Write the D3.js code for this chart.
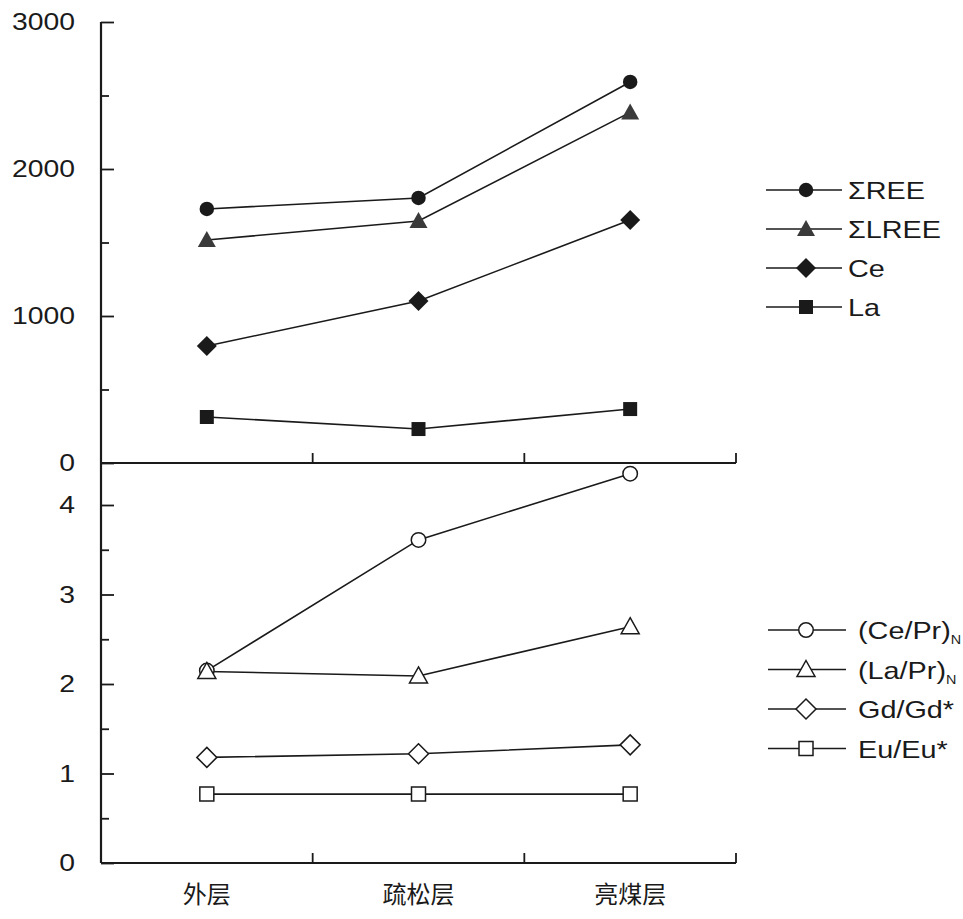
<!DOCTYPE html>
<html>
<head>
<meta charset="utf-8">
<script src="https://cdnjs.cloudflare.com/ajax/libs/d3/7.8.5/d3.min.js"></script>
<style>
  body{margin:0;background:#fff;}
  text{font-family:"Liberation Sans",Arial,sans-serif;fill:#1a1a1a;}
  .cat{font-family:"Noto Sans CJK SC",sans-serif;}
</style>
</head>
<body>
<div id="vis-container"></div>
<script>
//data
let layers = ["外层", "疏松层", "亮煤层"];

let sumREE  = [1728, 1803, 2592];
let sumLREE = [1517, 1646, 2385];
let ce      = [796, 1102, 1653];
let la      = [313, 231, 367];

let cePrN = [2.15, 3.61, 4.35];
let laPrN = [2.14, 2.09, 2.64];
let gdGd  = [1.18, 1.22, 1.32];
let euEu  = [0.77, 0.77, 0.77];

let topTicks = [0, 1000, 2000, 3000];
let topMinor = [500, 1500, 2500];
let botTicks = [0, 1, 2, 3, 4];
let botMinor = [0.5, 1.5, 2.5, 3.5];

let topSeries = [
  {name:"ΣREE",  values:sumREE,  mark:"circle"},
  {name:"ΣLREE", values:sumLREE, mark:"triangle"},
  {name:"Ce",    values:ce,      mark:"diamond"},
  {name:"La",    values:la,      mark:"square"}
];
let botSeries = [
  {name:"(Ce/Pr)", sub:"N", values:cePrN, mark:"circle"},
  {name:"(La/Pr)", sub:"N", values:laPrN, mark:"triangle"},
  {name:"Gd/Gd*",  sub:"",  values:gdGd,  mark:"diamond"},
  {name:"Eu/Eu*",  sub:"",  values:euEu,  mark:"square"}
];

let W = 963, H = 919;
let stretch = 1.18; //text in the original is wider than Arial
let ink = "#1a1a1a";

let svg = d3.select("#vis-container")
  .append("svg")
  .attr("width", W)
  .attr("height", H);

//scales
let x = d3.scaleBand()
  .domain(layers)
  .range([101, 736]);

let yTop = d3.scaleLinear()
  .domain([0, 3000])
  .range([463, 22]);

let yBot = d3.scaleLinear()
  .domain([0, 4])
  .range([863, 505]);

//marker path centred on 0,0
function markPath(type){
  if(type=="circle") return d3.symbol(d3.symbolCircle, 165)();
  if(type=="triangle") return "M0,-9L9,7L-9,7Z";
  if(type=="diamond") return "M0,-10L10,0L0,10L-10,0Z";
  return "M-7,-7L7,-7L7,7L-7,7Z";
}

function markFill(type, filled){
  if(!filled) return "#fff";
  return type=="triangle" ? "#3a3a3a" : ink;
}

//y axes, ticks pointing into the plot
function yAxis(scale, major, minor, g){
  g.append("g")
    .call(d3.axisLeft(scale).tickValues(minor).tickSize(-8).tickFormat(""))
    .call(a=>a.select(".domain").remove());
  g.append("g")
    .call(d3.axisLeft(scale).tickValues(major).tickSizeInner(-13).tickSizeOuter(0)
      .tickPadding(26).tickFormat(d3.format("d")))
    .call(a=>a.select(".domain").remove())
    .selectAll("text")
      .attr("font-size", "24px")
      .attr("x", -26/stretch)
      .attr("transform", `scale(${stretch},1)`);
  g.selectAll("line").attr("stroke", ink).attr("stroke-width", 1.8);
}

let gAxes = svg.append("g").attr("transform", "translate(101,0)");
yAxis(yTop, topTicks, topMinor, gAxes.append("g"));
yAxis(yBot, botTicks, botMinor, gAxes.append("g"));
gAxes.selectAll("text").attr("font-family", "'Liberation Sans',Arial,sans-serif").attr("fill", ink);

//vertical axis line through both panels
svg.append("line")
  .attr("x1", 101).attr("x2", 101)
  .attr("y1", yTop(3000)).attr("y2", yBot(0))
  .attr("stroke", ink).attr("stroke-width", 2.2);

//x axes: band edges get ticks pointing up
let edges = layers.map(d=>x(d)+x.bandwidth());
[yTop(0), yBot(0)].forEach(yy=>{
  svg.append("line")
    .attr("x1", x.range()[0]).attr("x2", x.range()[1])
    .attr("y1", yy).attr("y2", yy)
    .attr("stroke", ink).attr("stroke-width", 2.2);
  svg.selectAll(null)
    .data(edges)
    .enter()
    .append("line")
      .attr("x1", d=>d).attr("x2", d=>d)
      .attr("y1", yy).attr("y2", yy-10)
      .attr("stroke", ink).attr("stroke-width", 1.8);
});

//category labels
svg.selectAll(".cat")
  .data(layers)
  .enter()
  .append("text")
    .attr("class", "cat")
    .attr("x", d=>x(d)+x.bandwidth()/2)
    .attr("y", 903)
    .attr("text-anchor", "middle")
    .attr("font-size", "24px")
    .text(d=>d);

//draw one panel of series
function drawSeries(series, y, filled){
  let line = d3.line()
    .x((d,i)=>x(layers[i])+x.bandwidth()/2)
    .y(d=>y(d));

  let g = svg.append("g");
  series.forEach(s=>{
    g.append("path")
      .attr("d", line(s.values))
      .attr("fill", "none")
      .attr("stroke", ink)
      .attr("stroke-width", 1.6);
  });
  series.forEach(s=>{
    g.selectAll(null)
      .data(s.values)
      .enter()
      .append("path")
        .attr("transform", (d,i)=>`translate(${x(layers[i])+x.bandwidth()/2},${y(d)})`)
        .attr("d", markPath(s.mark))
        .attr("fill", markFill(s.mark, filled))
        .attr("stroke", filled ? "none" : ink)
        .attr("stroke-width", 1.5);
  });
}

drawSeries(topSeries, yTop, true);
drawSeries(botSeries, yBot, false);

//legends
function legend(series, top, step, x0, x1, xm, xt, filled){
  let rows = svg.append("g")
    .selectAll("g")
    .data(series)
    .enter()
    .append("g")
      .attr("transform", (d,i)=>`translate(0,${top+i*step})`);

  rows.append("line")
    .attr("x1", x0).attr("x2", x1)
    .attr("stroke", ink).attr("stroke-width", 1.6);

  rows.append("path")
    .attr("transform", `translate(${xm},0)`)
    .attr("d", d=>markPath(d.mark))
    .attr("fill", d=>markFill(d.mark, filled))
    .attr("stroke", filled ? "none" : ink)
    .attr("stroke-width", 1.5);

  let t = rows.append("text")
    .attr("transform", `translate(${xt},9) scale(1.2,1)`)
    .attr("font-size", "24px");
  t.append("tspan").text(d=>d.name);
  t.append("tspan")
    .attr("font-size", "12px")
    .attr("dy", 5)
    .text(d=>d.sub || "");
}

legend(topSeries, 190, 39, 766, 842, 806, 848, true);
legend(botSeries, 630, 39.5, 768, 846, 806, 858, false);
</script>
</body>
</html>
